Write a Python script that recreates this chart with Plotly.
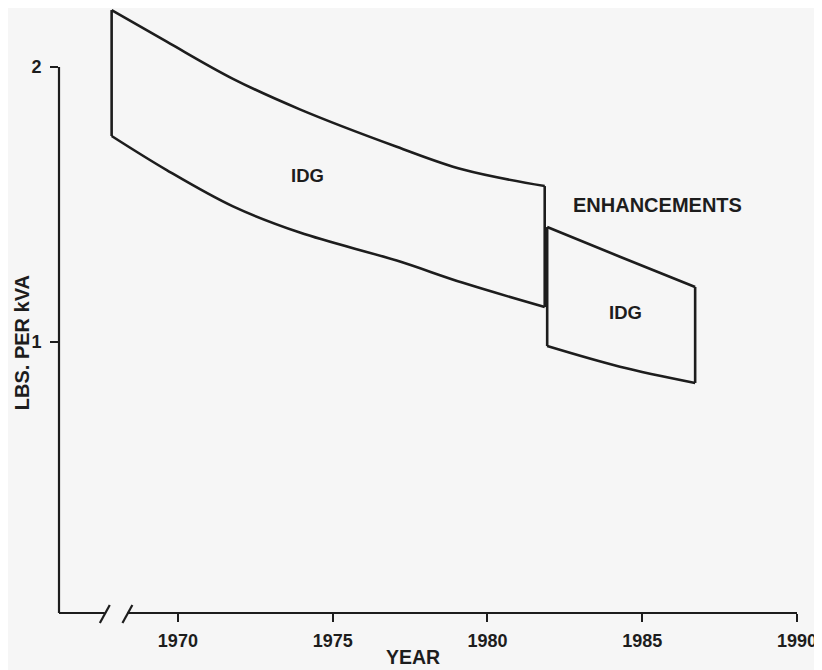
import plotly.graph_objects as go

# ---- data ----
band1_years = [1967.86, 1969.64, 1971.78, 1973.94, 1977.07, 1979.21, 1981.85]
band1_upper = [2.207, 2.092, 1.957, 1.846, 1.710, 1.627, 1.567]
band1_lower = [1.749, 1.625, 1.493, 1.398, 1.296, 1.215, 1.127]

band2_years = [1981.93, 1984.28, 1986.71]
band2_upper = [1.418, 1.310, 1.200]
band2_lower = [0.985, 0.910, 0.851]

x_ticks = [1970, 1975, 1980, 1985, 1990]
x_ticklabels = ["1970", "1975", "1980", "1985", "1990"]
y_ticks = [1, 2]
y_ticklabels = ["1", "2"]

label_texts = ["IDG", "ENHANCEMENTS", "IDG"]
label_years = [1974.2, 1985.48, 1984.45]
label_values = [1.604, 1.498, 1.109]

break_years = [1967.64, 1968.37]

INK = "#1d1d1d"
BG = "#f6f6f6"
FONT = "Liberation Sans, Arial, sans-serif"

fig = go.Figure()

def curve(xs, ys):
    fig.add_trace(go.Scatter(x=xs, y=ys, mode="lines",
                             line=dict(color=INK, width=2.6, shape="spline", smoothing=1.0),
                             hoverinfo="skip", showlegend=False))

def edge(x, y0, y1):
    fig.add_trace(go.Scatter(x=[x, x], y=[y0, y1], mode="lines",
                             line=dict(color=INK, width=2.6),
                             hoverinfo="skip", showlegend=False))

for yrs, up, lo in [(band1_years, band1_upper, band1_lower),
                    (band2_years, band2_upper, band2_lower)]:
    curve(yrs, up)
    curve(yrs, lo)
    edge(yrs[0], up[0], lo[0])
    edge(yrs[-1], up[-1], lo[-1])

for t, x, y in zip(label_texts, label_years, label_values):
    fig.add_annotation(x=x, y=y, text=t, showarrow=False,
                       font=dict(family=FONT, size=20 if len(t) > 3 else 18.5,
                                 color=INK, weight="bold"))

# axis titles
fig.add_annotation(xref="paper", yref="y", x=-0.050, y=0.996, text="LBS. PER kVA",
                   textangle=-90, showarrow=False, xanchor="center", yanchor="middle",
                   font=dict(family=FONT, size=20, color=INK, weight="bold"))
fig.add_annotation(xref="x", yref="paper", x=1977.6, y=-0.0727, text="YEAR",
                   showarrow=False, xanchor="center", yanchor="middle",
                   font=dict(family=FONT, size=19.5, color=INK, weight="bold"))

x_lo, x_hi = 1966.16, 1990.0
y_lo, y_hi = 0.0145, 2.2145

# axis lines drawn as shapes (y axis stops at 2, x axis has a break)
fig.add_shape(type="line", xref="paper", yref="y", x0=0, x1=0, y0=y_lo, y1=2.0,
              line=dict(color=INK, width=2.2))
fig.add_shape(type="line", xref="x", yref="paper", x0=x_lo, x1=break_years[0], y0=0, y1=0,
              line=dict(color=INK, width=2.2))
fig.add_shape(type="line", xref="x", yref="paper", x0=break_years[1], x1=x_hi, y0=0, y1=0,
              line=dict(color=INK, width=2.2))
for bx in break_years:
    fig.add_shape(type="line", xref="x", yref="paper",
                  x0=bx - 0.16, x1=bx + 0.16, y0=-0.0165, y1=0.0132,
                  line=dict(color=INK, width=2.2))

fig.update_xaxes(range=[x_lo, x_hi], tickvals=x_ticks, ticktext=x_ticklabels,
                 ticks="outside", ticklen=8, tickwidth=2.2, tickcolor=INK,
                 ticklabelstandoff=3,
                 showline=False, showgrid=False, zeroline=False, automargin=False,
                 tickfont=dict(family=FONT, size=18, color=INK, weight="bold"))
fig.update_yaxes(range=[y_lo, y_hi], tickvals=y_ticks, ticktext=y_ticklabels,
                 ticks="outside", ticklen=8, tickwidth=2.2, tickcolor=INK,
                 ticklabelstandoff=5,
                 showline=False, showgrid=False, zeroline=False, automargin=False,
                 tickfont=dict(family=FONT, size=18, color=INK, weight="bold"))

# page body has an 8px margin, so the figure is sized to fill the rest of the window
fig.update_layout(width=814, height=662,
                  margin=dict(l=51, r=25, t=0, b=57, autoexpand=False),
                  paper_bgcolor=BG, plot_bgcolor=BG,
                  showlegend=False)

fig.write_html("out.html")
